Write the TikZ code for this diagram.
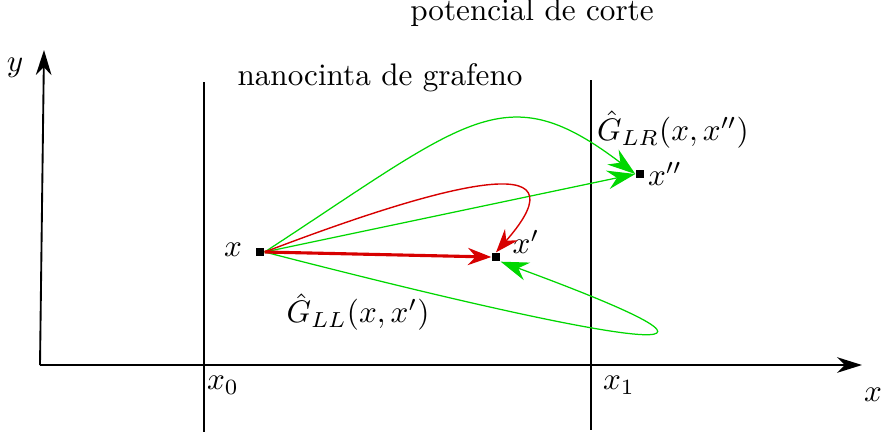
\documentclass[tikz,border=0pt]{standalone}
\usetikzlibrary{arrows.meta}
\definecolor{gr}{RGB}{0,215,0}
\definecolor{rd}{RGB}{215,0,0}
\begin{document}
\begin{tikzpicture}[x=0.3208pt,y=-0.3208pt,
  pt/.style={fill=black,inner sep=0pt,minimum size=2.6pt},
  axis/.style={line width=0.6pt,-{Stealth[length=8pt,width=5pt,inset=2.5pt]}},
  bar/.style={line width=0.6pt},
  gline/.style={draw=gr,line width=0.4pt,-{Stealth[length=9pt,width=6pt,inset=3pt]}},
  rline/.style={draw=rd,line width=0.45pt,-{Stealth[length=7.5pt,width=5.5pt,inset=2.5pt]}},
  rthick/.style={draw=rd,line width=1pt,-{Stealth[length=7.5pt,width=5.5pt,inset=2.5pt]}},
  lbl/.style={inner sep=0pt}]
\useasboundingbox (0,0) rectangle (881,436);
% axes
\coordinate (O) at (40,365);
\coordinate (Ytop) at (44,50);
\coordinate (Xend) at (862,365);
\draw[axis] (O) -- (Ytop);
\draw[axis] (O) -- (Xend);
\node[lbl] (ylab) at (15,68) {$y$};
\node[lbl] (xlab) at (873,395) {$x$};
% barriers
\coordinate (B0t) at (204,82);
\coordinate (B0b) at (204,432);
\coordinate (B1t) at (591,80);
\coordinate (B1b) at (591,430);
\draw[bar] (B0t) -- (B0b);
\draw[bar] (B1t) -- (B1b);
\node[lbl] (x0lab) at (223,385) {$x_0$};
\node[lbl] (x1lab) at (619,385) {$x_1$};
\node[lbl] (nano) at (380,78) {nanocinta de grafeno};
\node[lbl] (pot) at (532,13) {potencial de corte};
% points
\node[pt] (X) at (260,252) {};
\node[pt] (Xp) at (496,257) {};
\node[pt] (Xpp) at (640,174) {};
\node[lbl] (Xl) at (233,250) {$x$};
\node[lbl] (Xpl) at (526,242) {$x'$};
\node[lbl] (Xppl) at (665,174) {$x''$};
\node[lbl] (GLR) at (673,130) {$\hat{G}_{LR}(x,x'')$};
\node[lbl] (GLL) at (358,312) {$\hat{G}_{LL}(x,x')$};
% connectors
\draw[gline] (X.east) .. controls (470,118) and (505,75) .. (Xpp.west);
\draw[gline] (X.east) -- (Xpp.west);
\draw[gline] (X.east) .. controls (625,345) and (800,372) .. (Xp.south east);
\draw[rline] (X.east) .. controls (440,185) and (590,145) .. (Xp.north);
\draw[rthick] (X.east) -- (Xp.west);
\end{tikzpicture}
\end{document}
